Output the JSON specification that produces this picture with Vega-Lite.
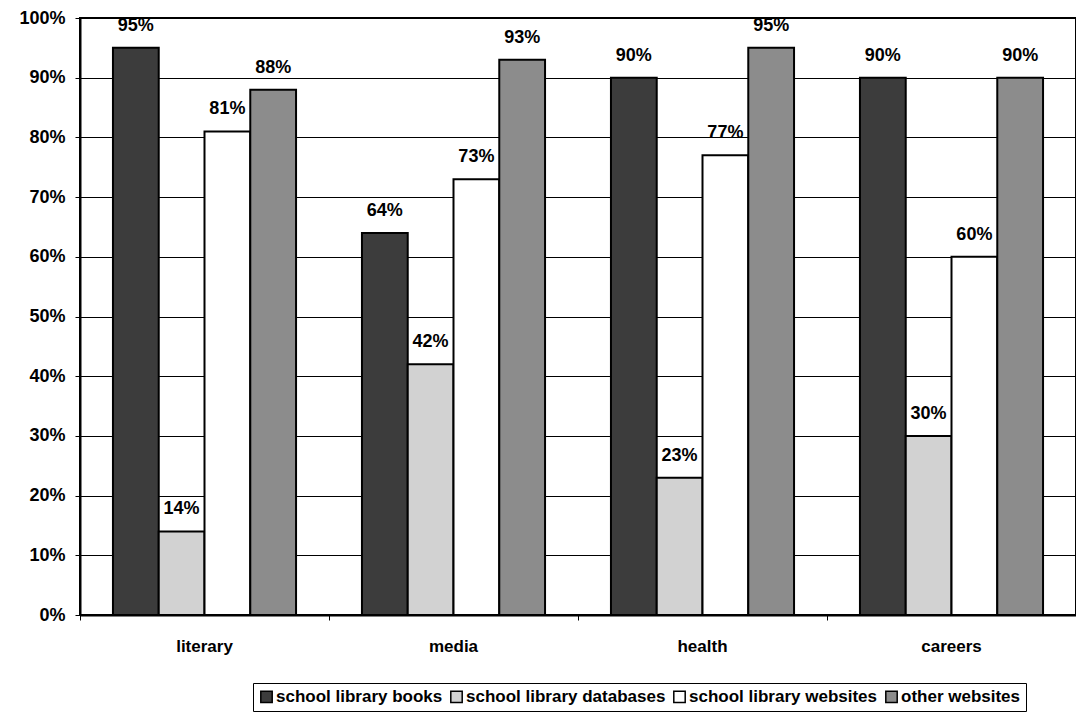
{
  "$schema": "https://vega.github.io/schema/vega-lite/v6.json",
  "width": 996,
  "height": 597,
  "autosize": "none",
  "padding": {"left": 80, "top": 18, "right": 0, "bottom": 102},
  "background": "white",
  "config": {
    "font": "Liberation Sans",
    "view": {"stroke": "black", "strokeWidth": 2}
  },
  "data": {
    "values": [
      {"topic": "literary", "source": "school library books", "value": 0.95},
      {"topic": "literary", "source": "school library databases", "value": 0.14},
      {"topic": "literary", "source": "school library websites", "value": 0.81},
      {"topic": "literary", "source": "other websites", "value": 0.88},
      {"topic": "media", "source": "school library books", "value": 0.64},
      {"topic": "media", "source": "school library databases", "value": 0.42},
      {"topic": "media", "source": "school library websites", "value": 0.73},
      {"topic": "media", "source": "other websites", "value": 0.93},
      {"topic": "health", "source": "school library books", "value": 0.90},
      {"topic": "health", "source": "school library databases", "value": 0.23},
      {"topic": "health", "source": "school library websites", "value": 0.77},
      {"topic": "health", "source": "other websites", "value": 0.95},
      {"topic": "careers", "source": "school library books", "value": 0.90},
      {"topic": "careers", "source": "school library databases", "value": 0.30},
      {"topic": "careers", "source": "school library websites", "value": 0.60},
      {"topic": "careers", "source": "other websites", "value": 0.90}
    ]
  },
  "encoding": {
    "x": {
      "field": "topic",
      "type": "nominal",
      "sort": ["literary", "media", "health", "careers"],
      "scale": {"paddingInner": 0, "paddingOuter": 0},
      "axis": {
        "title": null,
        "labelAngle": 0,
        "labelFont": "Liberation Sans",
        "labelFontSize": 17,
        "labelFontWeight": "bold",
        "labelColor": "black",
        "labelPadding": 18,
        "bandPosition": 0,
        "tickColor": "black",
        "tickSize": 5,
        "domainColor": "black",
        "domainWidth": 2
      }
    },
    "xOffset": {
      "field": "source",
      "sort": ["school library books", "school library databases", "school library websites", "other websites"],
      "scale": {"paddingInner": 0, "paddingOuter": 0.72}
    },
    "y": {
      "field": "value",
      "type": "quantitative",
      "scale": {"domain": [0, 1]},
      "axis": {
        "title": null,
        "format": ".0%",
        "values": [0, 0.1, 0.2, 0.3, 0.4, 0.5, 0.6, 0.7, 0.8, 0.9, 1.0],
        "labelOverlap": false,
        "labelFont": "Liberation Sans",
        "labelFontSize": 18,
        "labelFontWeight": "bold",
        "labelColor": "black",
        "labelPadding": 10,
        "grid": true,
        "gridColor": "black",
        "gridWidth": 1,
        "tickColor": "black",
        "tickSize": 5,
        "domainColor": "black",
        "domainWidth": 2
      }
    }
  },
  "layer": [
    {
      "mark": {"type": "bar", "stroke": "black", "strokeWidth": 2},
      "encoding": {
        "fill": {
          "field": "source",
          "type": "nominal",
          "sort": ["school library books", "school library databases", "school library websites", "other websites"],
          "scale": {
            "domain": ["school library books", "school library databases", "school library websites", "other websites"],
            "range": ["#3c3c3c", "#d2d2d2", "#ffffff", "#8c8c8c"]
          },
          "legend": {
            "title": null,
            "orient": "none",
            "direction": "horizontal",
            "legendX": 173,
            "legendY": 665,
            "symbolType": "square",
            "symbolSize": 130,
            "symbolStrokeColor": "black",
            "symbolStrokeWidth": 1.5,
            "labelFont": "Liberation Sans",
            "labelFontSize": 17,
            "labelFontWeight": "bold",
            "labelColor": "black",
            "labelLimit": 0,
            "labelOffset": 1,
            "columnPadding": 4,
            "strokeColor": "black",
            "padding": 5
          }
        }
      }
    },
    {
      "mark": {"type": "text", "dy": -22, "fontSize": 18, "fontWeight": "bold", "font": "Liberation Sans", "color": "black"},
      "encoding": {
        "text": {"field": "value", "type": "quantitative", "format": ".0%"}
      }
    }
  ]
}
